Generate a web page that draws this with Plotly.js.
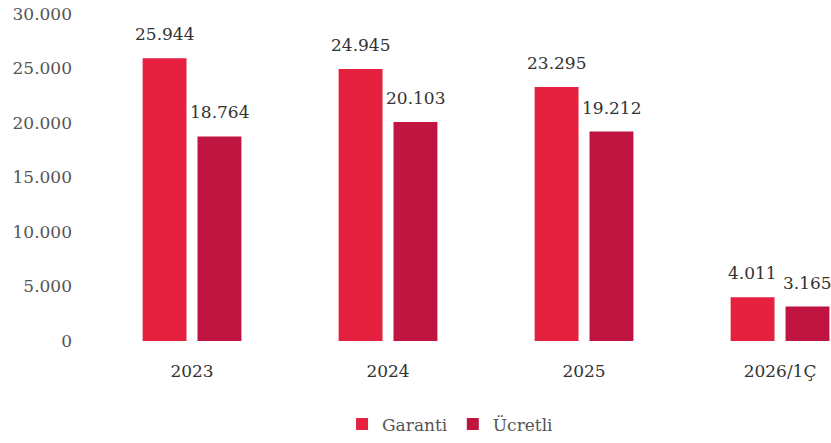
<!DOCTYPE html>
<html>
<head>
<meta charset="utf-8">
<script src="https://cdn.plot.ly/plotly-3.0.1.min.js"></script>
<style>html,body{margin:0;padding:0;background:#fff;}#chart{width:831px;height:443px;}</style>
</head>
<body>
<div id="chart"></div>
<script>
const categories = ["2023", "2024", "2025", "2026/1Ç"];
const garanti = [25944, 24945, 23295, 4011];
const ucretli = [18764, 20103, 19212, 3165];
const seriesNames = ["Garanti", "Ücretli"];

function fmt(v) {
  return String(v).replace(/\B(?=(\d{3})+(?!\d))/g, ".");
}

const serif = "DejaVu Serif";
const colors = ["#e5213f", "#bf1540"];

const traces = [garanti, ucretli].map((vals, i) => ({
  type: "bar",
  name: seriesNames[i],
  x: categories,
  y: vals,
  marker: { color: colors[i] },
  hoverinfo: "none"
}));

const annotations = [];
[garanti, ucretli].forEach((vals, i) => {
  vals.forEach((v, j) => {
    annotations.push({
      x: j, y: v, xref: "x", yref: "y",
      text: fmt(v), showarrow: false,
      xshift: i === 0 ? -27.5 : 27.5,
      yanchor: "bottom", yshift: 12,
      font: { family: serif, size: 17, color: "#333" }
    });
  });
});

const layout = {
  width: 831, height: 443,
  margin: { l: 85, r: 0, t: 14, b: 93 },
  paper_bgcolor: "#fff", plot_bgcolor: "#fff",
  separators: ",.",
  barmode: "group",
  bargap: 0.44,
  bargroupgap: 0.2,
  font: { family: serif, size: 15, color: "#444" },
  xaxis: {
    type: "category",
    range: [-0.546, 3.26],
    showgrid: false, zeroline: false, showline: false,
    ticks: "", ticklabelstandoff: 18,
    tickfont: { family: serif, size: 17, color: "#333" }
  },
  yaxis: {
    range: [0, 30000],
    dtick: 5000, tickformat: ",.0f",
    showgrid: false, zeroline: false, showline: false,
    ticks: "", ticklabelstandoff: 12,
    tickfont: { family: serif, size: 17, color: "#555" }
  },
  showlegend: true,
  legend: {
    orientation: "h", x: 0.49, xanchor: "center", y: -0.2, yanchor: "top",
    font: { family: serif, size: 17, color: "#555" },
    itemwidth: 30, traceorder: "normal"
  },
  annotations: annotations
};

Plotly.newPlot("chart", traces, layout, { displayModeBar: false, staticPlot: true });
</script>
</body>
</html>
